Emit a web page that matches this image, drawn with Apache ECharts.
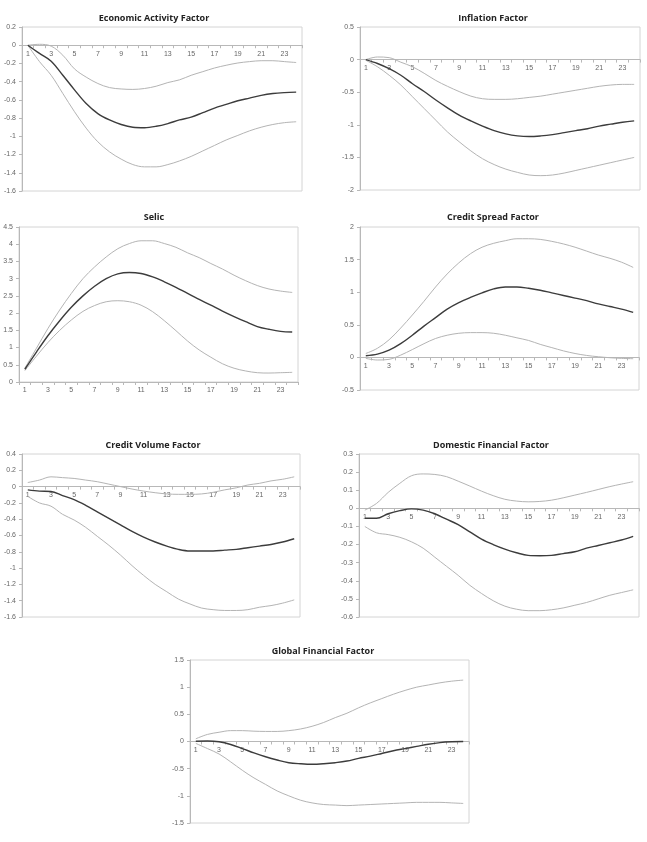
<!DOCTYPE html>
<html>
<head>
<meta charset="utf-8">
<script src="https://cdn.jsdelivr.net/npm/echarts@6/dist/echarts.min.js"></script>
<style>
  html, body { margin: 0; padding: 0; background: #fff; }
  #chart { width: 647px; height: 842px; }
</style>
</head>
<body>
<div id="chart"></div>
<script>
// horizon 1..24
var horizons = ["1","2","3","4","5","6","7","8","9","10","11","12","13","14","15","16","17","18","19","20","21","22","23","24"];

// Economic Activity Factor
var econMid = [0, -0.09, -0.175, -0.33, -0.49, -0.64, -0.75, -0.82, -0.87, -0.9, -0.905, -0.89, -0.86, -0.82, -0.79, -0.74, -0.69, -0.65, -0.61, -0.58, -0.55, -0.53, -0.52, -0.515];
var econUp = [0, 0.01, -0.01, -0.11, -0.26, -0.35, -0.42, -0.465, -0.48, -0.485, -0.475, -0.45, -0.41, -0.38, -0.33, -0.29, -0.25, -0.22, -0.195, -0.18, -0.17, -0.17, -0.18, -0.19];
var econLow = [0, -0.18, -0.33, -0.53, -0.73, -0.91, -1.06, -1.17, -1.25, -1.31, -1.335, -1.335, -1.31, -1.27, -1.22, -1.16, -1.1, -1.04, -0.99, -0.94, -0.9, -0.87, -0.85, -0.84];

// Inflation Factor
var inflMid = [0, -0.06, -0.14, -0.24, -0.37, -0.49, -0.62, -0.74, -0.85, -0.94, -1.02, -1.09, -1.14, -1.17, -1.18, -1.17, -1.15, -1.12, -1.09, -1.06, -1.02, -0.99, -0.96, -0.94];
var inflUp = [0, 0.04, 0.03, -0.04, -0.11, -0.21, -0.32, -0.41, -0.49, -0.56, -0.6, -0.61, -0.61, -0.6, -0.58, -0.56, -0.53, -0.5, -0.47, -0.44, -0.41, -0.39, -0.38, -0.38];
var inflLow = [-0.01, -0.11, -0.24, -0.39, -0.57, -0.75, -0.93, -1.11, -1.26, -1.4, -1.52, -1.61, -1.68, -1.73, -1.77, -1.78, -1.77, -1.74, -1.7, -1.66, -1.62, -1.58, -1.54, -1.5];

// Selic
var selicMid = [0.37, 0.87, 1.35, 1.78, 2.17, 2.5, 2.78, 3.0, 3.14, 3.18, 3.15, 3.05, 2.91, 2.75, 2.57, 2.4, 2.23, 2.06, 1.9, 1.75, 1.61, 1.53, 1.47, 1.45];
var selicUp = [0.4, 0.98, 1.56, 2.09, 2.57, 3.0, 3.34, 3.63, 3.87, 4.02, 4.1, 4.1, 4.02, 3.91, 3.75, 3.61, 3.44, 3.28, 3.1, 2.94, 2.8, 2.7, 2.64, 2.6];
var selicLow = [0.33, 0.75, 1.15, 1.5, 1.8, 2.05, 2.22, 2.33, 2.36, 2.33, 2.23, 2.04, 1.78, 1.49, 1.19, 0.93, 0.72, 0.53, 0.4, 0.32, 0.27, 0.26, 0.27, 0.28];

// Credit Spread Factor
var spreadMid = [0.025, 0.05, 0.11, 0.21, 0.34, 0.48, 0.61, 0.74, 0.84, 0.92, 0.99, 1.05, 1.08, 1.08, 1.06, 1.03, 0.99, 0.95, 0.91, 0.87, 0.82, 0.78, 0.74, 0.69];
var spreadUp = [0.06, 0.14, 0.27, 0.45, 0.65, 0.86, 1.08, 1.28, 1.45, 1.59, 1.69, 1.75, 1.79, 1.82, 1.82, 1.81, 1.78, 1.74, 1.69, 1.63, 1.57, 1.52, 1.46, 1.38];
var spreadLow = [-0.015, -0.04, -0.03, 0.035, 0.12, 0.21, 0.29, 0.34, 0.37, 0.38, 0.38, 0.37, 0.34, 0.3, 0.26, 0.2, 0.15, 0.1, 0.06, 0.03, 0.01, -0.005, -0.015, -0.02];

// Credit Volume Factor
var volMid = [-0.04, -0.055, -0.06, -0.11, -0.16, -0.23, -0.31, -0.39, -0.47, -0.55, -0.62, -0.68, -0.73, -0.77, -0.79, -0.79, -0.79, -0.78, -0.77, -0.75, -0.73, -0.71, -0.68, -0.64];
var volUp = [0.05, 0.08, 0.12, 0.11, 0.1, 0.08, 0.06, 0.03, 0, -0.03, -0.055, -0.075, -0.09, -0.095, -0.095, -0.09, -0.07, -0.04, -0.015, 0.02, 0.04, 0.07, 0.09, 0.12];
var volLow = [-0.12, -0.2, -0.24, -0.34, -0.41, -0.5, -0.61, -0.72, -0.84, -0.97, -1.09, -1.2, -1.29, -1.38, -1.44, -1.49, -1.51, -1.52, -1.52, -1.51, -1.48, -1.46, -1.43, -1.39];

// Domestic Financial Factor
var domMid = [-0.055, -0.055, -0.03, -0.013, -0.003, -0.01, -0.03, -0.06, -0.09, -0.13, -0.17, -0.2, -0.225, -0.245, -0.26, -0.262, -0.26, -0.25, -0.24, -0.22, -0.205, -0.19, -0.175, -0.155];
var domUp = [-0.01, 0.027, 0.088, 0.138, 0.18, 0.19, 0.187, 0.175, 0.15, 0.123, 0.095, 0.07, 0.05, 0.04, 0.036, 0.038, 0.045, 0.058, 0.073, 0.088, 0.104, 0.12, 0.134, 0.147];
var domLow = [-0.1, -0.135, -0.145, -0.16, -0.185, -0.22, -0.27, -0.32, -0.37, -0.425, -0.47, -0.51, -0.54, -0.557, -0.565, -0.565, -0.56, -0.55, -0.535, -0.52, -0.5, -0.48, -0.465, -0.45];

// Global Financial Factor
var globMid = [0.005, 0.01, -0.005, -0.055, -0.13, -0.21, -0.28, -0.34, -0.39, -0.41, -0.42, -0.41, -0.39, -0.36, -0.31, -0.27, -0.22, -0.17, -0.13, -0.09, -0.05, -0.02, -0.005, 0];
var globUp = [0.05, 0.13, 0.17, 0.2, 0.2, 0.19, 0.185, 0.185, 0.2, 0.23, 0.28, 0.35, 0.44, 0.52, 0.62, 0.71, 0.79, 0.87, 0.94, 1.0, 1.04, 1.08, 1.11, 1.13];
var globLow = [-0.035, -0.13, -0.23, -0.375, -0.53, -0.67, -0.79, -0.91, -1.0, -1.08, -1.13, -1.16, -1.17, -1.18, -1.17, -1.16, -1.15, -1.14, -1.13, -1.12, -1.12, -1.12, -1.13, -1.14];

var panels = [
  { title: "Economic Activity Factor", tx: 154, ty: 18, grid: [22, 27, 280, 164], y: [-1.6, 0.2, 0.2], mid: econMid, up: econUp, low: econLow },
  { title: "Inflation Factor", tx: 493, ty: 18, grid: [360, 27, 280, 163], y: [-2, 0.5, 0.5], mid: inflMid, up: inflUp, low: inflLow },
  { title: "Selic", tx: 154, ty: 217, grid: [19, 227, 279, 155], y: [0, 4.5, 0.5], mid: selicMid, up: selicUp, low: selicLow },
  { title: "Credit Spread Factor", tx: 493, ty: 217, grid: [360, 227, 279, 163], y: [-0.5, 2, 0.5], mid: spreadMid, up: spreadUp, low: spreadLow },
  { title: "Credit Volume Factor", tx: 153, ty: 445, grid: [22, 454, 278, 163], y: [-1.6, 0.4, 0.2], mid: volMid, up: volUp, low: volLow },
  { title: "Domestic Financial Factor", tx: 491, ty: 445, grid: [359, 454, 280, 163], y: [-0.6, 0.3, 0.1], mid: domMid, up: domUp, low: domLow },
  { title: "Global Financial Factor", tx: 323, ty: 651, grid: [190, 660, 279, 163], y: [-1.5, 1.5, 0.5], mid: globMid, up: globUp, low: globLow }
];

var axisGrey = "#b8b8b8";
var labelStyle = { fontSize: 7, color: "#666", fontFamily: "Liberation Sans" };

var grids = [], xAxes = [], yAxes = [], series = [], texts = [];
panels.forEach(function (p, i) {
  grids.push({
    left: p.grid[0], top: p.grid[1], width: p.grid[2], height: p.grid[3],
    show: true, borderColor: "#d4d4d4", borderWidth: 1, backgroundColor: "#fff"
  });
  // the category axis sits on the zero line, labels just under it
  var zeroLift = p.grid[3] * (0 - p.y[0]) / (p.y[1] - p.y[0]);
  xAxes.push({
    gridIndex: i,
    type: "category",
    data: horizons,
    boundaryGap: true,
    position: "bottom",
    offset: -zeroLift,
    axisLine: { onZero: false, lineStyle: { color: axisGrey, width: 1 } },
    axisTick: { show: true, interval: 0, length: 3, lineStyle: { color: axisGrey } },
    axisLabel: Object.assign({ interval: 1, margin: 5 }, labelStyle),
    splitLine: { show: false }
  });
  yAxes.push({
    gridIndex: i,
    type: "value",
    min: p.y[0], max: p.y[1], interval: p.y[2],
    axisLine: { show: true, lineStyle: { color: axisGrey, width: 1 } },
    axisTick: { show: true, length: 3, lineStyle: { color: axisGrey } },
    axisLabel: Object.assign({ margin: 6 }, labelStyle),
    splitLine: { show: false }
  });
  [[p.up, "#b4b4b4", 1], [p.low, "#b4b4b4", 1], [p.mid, "#3c3c3c", 1.4]].forEach(function (s) {
    series.push({
      type: "line",
      xAxisIndex: i, yAxisIndex: i,
      data: s[0],
      smooth: 0.35,
      symbol: "none",
      lineStyle: { color: s[1], width: s[2] },
      silent: true,
      z: s[2] > 1 ? 3 : 2
    });
  });
  texts.push({
    type: "text",
    x: p.tx, y: p.ty,
    style: {
      text: p.title,
      textAlign: "center",
      textVerticalAlign: "middle",
      font: "bold 9px 'Open Sans', sans-serif",
      fill: "#222"
    }
  });
});

var chart = echarts.init(document.getElementById("chart"));
chart.setOption({
  animation: false,
  backgroundColor: "#fff",
  grid: grids,
  xAxis: xAxes,
  yAxis: yAxes,
  series: series,
  graphic: texts
});
</script>
</body>
</html>
